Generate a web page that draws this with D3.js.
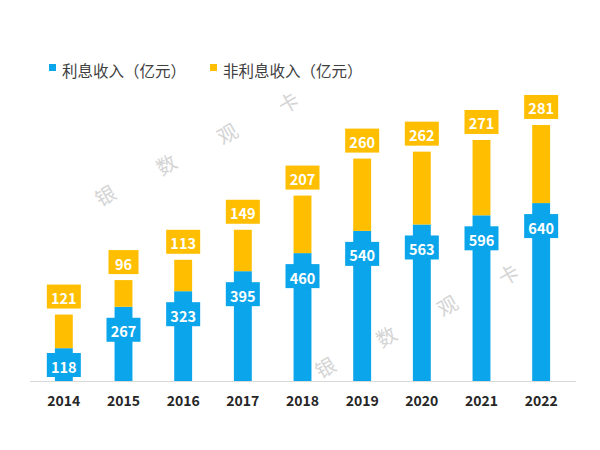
<!DOCTYPE html>
<html><head><meta charset="utf-8">
<script src="https://cdn.jsdelivr.net/npm/d3@7/dist/d3.min.js"></script>
<style>html,body{margin:0;padding:0;background:#fff;}svg{display:block;}</style>
</head><body><div id="chart"></div>
<script>
const years = ["2014","2015","2016","2017","2018","2019","2020","2021","2022"];
const interest = [118,267,323,395,460,540,563,596,640];
const nonInterest = [121,96,113,149,207,260,262,271,281];
const seriesNames = ["利息收入（亿元）","非利息收入（亿元）"];
const colors = ["#0AA5EA","#FFBF00"];
const watermark = ["银","数","观","卡"];

const W=600,H=450;
const svg=d3.select("#chart").append("svg").attr("width",W).attr("height",H);
const font='"Microsoft YaHei","Noto Sans CJK SC","Noto Sans",sans-serif';

const x=d3.scaleBand().domain(years).range([34,571]).paddingInner(0.7).paddingOuter(0.35);
const y=d3.scaleLinear().domain([0,1000]).range([381,103]);
const y0=y(0);

// baseline
svg.append("line").attr("x1",30).attr("x2",576).attr("y1",y0+0.5).attr("y2",y0+0.5)
  .attr("stroke","#d9d9d9").attr("stroke-width",1);

// watermark
const wm=svg.append("g");
[[105,195],[325,367]].forEach(([sx,sy])=>{
  watermark.forEach((ch,i)=>{
    wm.append("text").attr("transform",`translate(${sx+i*61},${sy-i*31}) rotate(-30)`)
      .attr("text-anchor","middle").attr("dominant-baseline","central")
      .attr("font-family",font).attr("font-size",20).attr("fill","#d4d4d4").text(ch);
  });
});

const data=years.map((yr,i)=>({yr,a:interest[i],b:nonInterest[i]}));
const bw=x.bandwidth();

// bars
svg.append("g").selectAll("rect").data(data).join("rect")
  .attr("x",d=>x(d.yr)).attr("width",bw)
  .attr("y",d=>y(d.a)).attr("height",d=>y0-y(d.a)).attr("fill",colors[0]);
svg.append("g").selectAll("rect").data(data).join("rect")
  .attr("x",d=>x(d.yr)).attr("width",bw)
  .attr("y",d=>y(d.a+d.b)).attr("height",d=>y(d.a)-y(d.a+d.b)).attr("fill",colors[1]);

function label(g,cx,cy,txt,color){
  const bwid=txt.length>2?34:30, bh=24;
  g.append("rect").attr("x",cx-bwid/2).attr("y",cy-bh/2).attr("width",bwid).attr("height",bh).attr("fill",color);
  g.append("text").attr("x",cx).attr("y",cy+1).attr("text-anchor","middle").attr("dominant-baseline","central")
    .attr("font-family",font).attr("font-weight","bold").attr("font-size",14.5).attr("fill","#fff").text(txt);
}
const lg=svg.append("g");
data.forEach(d=>{
  const cx=x(d.yr)+bw/2;
  label(lg,cx,Math.min(y(d.a)+23,y0-16),String(d.a),colors[0]);
  label(lg,cx,y(d.a+d.b)-18,String(d.b),colors[1]);
});

// x axis labels
svg.append("g").selectAll("text").data(years).join("text")
  .attr("x",d=>x(d)+bw/2).attr("y",400).attr("text-anchor","middle").attr("dominant-baseline","central")
  .attr("font-family",font).attr("font-weight","bold").attr("font-size",14).attr("fill","#262626").text(d=>d);

// legend
const leg=svg.append("g");
[[49,seriesNames[0],colors[0]],[210,seriesNames[1],colors[1]]].forEach(([lx,t,c])=>{
  leg.append("rect").attr("x",lx).attr("y",64).attr("width",7).attr("height",7).attr("fill",c);
  leg.append("text").attr("x",lx+13).attr("y",70).attr("dominant-baseline","central")
    .attr("font-family",font).attr("font-size",15.5).attr("fill","#404040").text(t);
});
</script></body></html>
